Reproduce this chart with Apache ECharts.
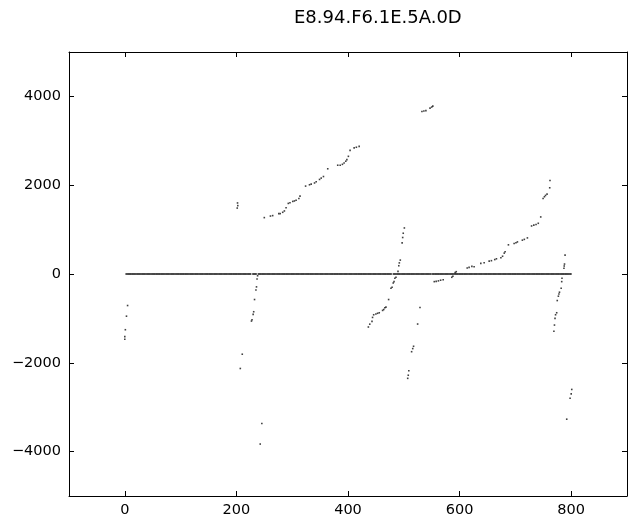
<!DOCTYPE html>
<html>
<head>
<meta charset="utf-8">
<script src="https://cdn.jsdelivr.net/npm/echarts@6/dist/echarts.min.js"></script>
<style>
html,body{margin:0;padding:0;background:#fff;overflow:hidden;}
#c{width:628px;height:518px;}
</style>
</head>
<body>
<div id="c"></div>
<script>
// ---- data ----
var titleText = "E8.94.F6.1E.5A.0D";
var xTickLabels = [0, 200, 400, 600, 800];
var yTickLabels = [-4000, -2000, 0, 2000, 4000];

// runs of x positions whose value is 0 (every integer x inside each run)
var zeroRuns = [[2, 226], [229, 236], [239, 478], [481, 549], [551, 800]];

// non-zero points
var pointsX = [
  5, 3, 1, 0, 0,
  202, 202.5, 201.5,
  210.5, 207,
  227, 228, 230, 231, 232.5, 235, 236, 237, 238,
  245.6, 242.7,
  250, 261, 265, 276, 278.5, 283, 286, 289, 293, 296, 301, 304, 307, 312, 314, 324, 331, 334, 340, 343, 349, 352, 356, 363.7, 381.6, 386, 390, 393, 396, 398, 400.7, 403.7, 411, 415, 420,
  436.5, 439, 443, 444, 446, 450, 453, 456, 462, 464, 466, 468, 472.8, 477, 479, 481, 482.5, 484, 486, 489.6, 491, 492, 493.7, 497, 498, 499, 501,
  507, 508, 509, 514, 516, 517.5, 524.8, 529,
  532.5, 536, 539.6, 547, 550, 552,
  554.6, 558, 562, 566, 570.6, 586, 588, 592, 594,
  613.6, 617, 622, 626, 638, 644, 653, 657, 663, 666, 674, 677, 680, 681.6, 687.5, 697.7, 701, 703.6, 712.5, 716, 721.5, 729, 733, 737, 741, 745.4, 749.6, 752, 754, 756.7, 761.5, 762,
  769, 770, 771, 772, 774, 775, 777, 778, 779, 782, 783, 783.5, 787, 787.5, 788, 789,
  792, 798, 800, 801
];
var pointsY = [
  -710, -950, -1255, -1410, -1470,
  1600, 1540, 1485,
  -1807, -2128,
  -1060, -1030, -910, -850, -575, -360, -290, -112, -40,
  -3367, -3830,
  1270, 1305, 1315, 1360, 1360, 1390, 1420, 1493, 1590, 1605, 1635, 1645, 1660, 1700, 1755, 1980, 2010, 2025, 2050, 2077, 2130, 2160, 2195, 2370, 2450, 2450, 2470, 2500, 2540, 2577, 2650, 2785, 2840, 2855, 2875,
  -1194, -1130, -1068, -978, -918, -900, -885, -873, -820, -800, -760, -746, -575, -320, -298, -202, -172, -96, -74, 60, 186, 250, 313, 700, 822, 918, 1037,
  -2350, -2280, -2180, -1750, -1680, -1628, -1127, -755,
  3660, 3670, 3680, 3735, 3760, 3780,
  -172, -165, -155, -140, -128, -74, -50, 30, 52,
  134, 150, 172, 163, 240, 253, 291, 300, 325, 343, 365, 400, 470, 500, 657, 687, 705, 723, 762, 780, 813, 1082, 1100, 1115, 1142, 1285, 1702, 1740, 1770, 1800, 1942, 2105,
  -1290, -1150, -1000, -918, -873, -598, -500, -450, -410, -320, -172, -96, 128, 180, 224, 425,
  -3270, -2800, -2700, -2600
];

// ---- build ----
var zeroData = [];
zeroRuns.forEach(function (r) {
  for (var x = r[0]; x <= r[1]; x++) zeroData.push([x, 0]);
});
var ptData = [];
for (var i = 0; i < pointsX.length; i++) ptData.push([pointsX[i], pointsY[i]]);

var FONT = "DejaVu Sans";
function fmt(v) { return v < 0 ? "\u2212" + Math.abs(v) : String(v); }
var lineStyle = { color: "#000", width: 1 };
var tick = { show: true, inside: true, length: 5, lineStyle: { color: "#000", width: 1 } };

var chart = echarts.init(document.getElementById("c"), null, { renderer: "canvas" });
chart.setOption({
  animation: false,
  backgroundColor: "#fff",
  title: {
    text: titleText,
    left: 289, top: 4,
    textStyle: { fontFamily: FONT, fontSize: 18, fontWeight: "normal", color: "#000" }
  },
  grid: { left: 69, top: 52, right: 1, bottom: 14, containLabel: false },
  xAxis: [{
    type: "value", min: -100, max: 900, splitNumber: 5, position: "bottom",
    axisLine: { show: true, onZero: false, lineStyle: lineStyle },
    axisTick: tick, splitLine: { show: false },
    axisLabel: { show: true, margin: 7, showMinLabel: false, showMaxLabel: false,
      fontFamily: FONT, fontSize: 14.5, color: "#000", formatter: fmt }
  }, {
    type: "value", min: -100, max: 900, splitNumber: 5, position: "top",
    axisLine: { show: true, onZero: false, lineStyle: lineStyle },
    axisTick: tick, splitLine: { show: false }, axisLabel: { show: false }
  }],
  yAxis: [{
    type: "value", min: -5000, max: 5000, splitNumber: 5, position: "left",
    axisLine: { show: true, onZero: false, lineStyle: lineStyle },
    axisTick: tick, splitLine: { show: false },
    axisLabel: { show: true, margin: 8, showMinLabel: false, showMaxLabel: false,
      fontFamily: FONT, fontSize: 14.5, color: "#000", formatter: fmt }
  }, {
    type: "value", min: -5000, max: 5000, splitNumber: 5, position: "right",
    axisLine: { show: true, onZero: false, lineStyle: lineStyle },
    axisTick: tick, splitLine: { show: false }, axisLabel: { show: false }
  }],
  series: [{
    type: "scatter",
    xAxisIndex: 0, yAxisIndex: 0,
    data: zeroData,
    symbol: "rect",
    symbolSize: [1.2, 1.3],
    itemStyle: { color: "#222" },
    silent: true
  }, {
    type: "scatter",
    xAxisIndex: 0, yAxisIndex: 0,
    data: ptData,
    symbol: "rect",
    symbolSize: 1.6,
    itemStyle: { color: "#111" },
    silent: true
  }]
});
</script>
</body>
</html>
